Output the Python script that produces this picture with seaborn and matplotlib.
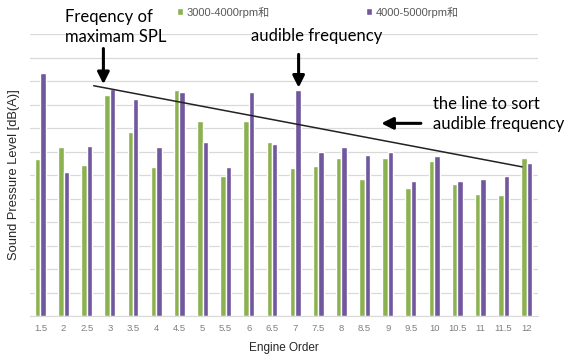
import pandas as pd
import matplotlib.pyplot as plt
import seaborn as sns

orders = ["1.5", "2", "2.5", "3", "3.5", "4", "4.5", "5", "5.5", "6", "6.5",
          "7", "7.5", "8", "8.5", "9", "9.5", "10", "10.5", "11", "11.5", "12"]
spl_3000_4000 = [6.67, 7.19, 6.44, 9.40, 7.83, 6.34, 9.62, 8.28, 5.95, 8.28, 7.42,
                 6.28, 6.38, 6.71, 5.85, 6.71, 5.47, 6.61, 5.63, 5.20, 5.14, 6.71]
spl_4000_5000 = [10.36, 6.12, 7.25, 9.66, 9.24, 7.19, 9.52, 7.41, 6.34, 9.52, 7.31,
                 9.63, 6.98, 7.19, 6.87, 6.98, 5.74, 6.82, 5.74, 5.85, 5.97, 6.50]
series_names = ["3000-4000rpm和", "4000-5000rpm和"]

# sorting line (category index, level)
sort_line_x = [2.3, 20.8]
sort_line_y = [9.8, 6.35]

df = pd.DataFrame({
    "order": orders * 2,
    "spl": spl_3000_4000 + spl_4000_5000,
    "series": [series_names[0]] * len(orders) + [series_names[1]] * len(orders),
})

sns.set_style("white")
plt.rcParams["font.family"] = ["Liberation Sans", "Noto Sans CJK SC", "DejaVu Sans"]

fig = plt.figure(figsize=(5.66, 3.58), dpi=100)
ax = fig.add_axes([0.053, 0.117, 0.898, 0.788])

sns.barplot(data=df, x="order", y="spl", hue="series", order=orders,
            hue_order=series_names, palette=["#8CB150", "#71579D"],
            width=0.47, gap=0, saturation=1, ax=ax)

ax.set_ylim(0, 12)
ax.set_xlim(-0.45, 21.5)
ax.set_yticks(range(0, 13))
ax.set_yticklabels([])
ax.tick_params(axis="y", length=0)
ax.tick_params(axis="x", length=0, labelsize=6.8, labelcolor="#7f7f7f", pad=6)
ax.yaxis.grid(True, color="#d9d9d9", linewidth=0.9)
ax.set_axisbelow(True)
for s in ["top", "right", "left"]:
    ax.spines[s].set_visible(False)
ax.spines["bottom"].set_color("#d9d9d9")

ax.set_xlabel("Engine Order", fontsize=8.5, labelpad=6)
ax.set_ylabel("Sound Pressure Level [dB(A)]", fontsize=9.3, labelpad=4)

ax.legend(ncol=2, loc="center left", bbox_to_anchor=(0.303, 0.966),
          bbox_transform=fig.transFigure, frameon=False, borderpad=0,
          fontsize=8, labelcolor="#595959", handlelength=0.55, handleheight=0.55,
          handletextpad=0.35, columnspacing=8.6)

# sorting line and annotations
ax.plot(sort_line_x, sort_line_y, color="#222222", linewidth=1.1, clip_on=False)

afont = dict(family=["Lato", "DejaVu Sans"], fontsize=12, color="black")
arrow = dict(arrowstyle="-|>,head_length=0.7,head_width=0.35", color="black", lw=2.2)

ax.annotate("", xy=(2.72, 9.75), xytext=(2.72, 11.5), arrowprops=arrow,
            annotation_clip=False)
ax.text(1.06, 11.55, "Freqency of\nmaximam SPL", ha="left", va="bottom",
        linespacing=1.3, **afont)

ax.annotate("", xy=(11.15, 9.6), xytext=(11.15, 11.25), arrowprops=arrow,
            annotation_clip=False)
ax.text(11.95, 11.9, "audible frequency", ha="center", va="center", **afont)

ax.annotate("", xy=(14.6, 8.2), xytext=(16.55, 8.2), arrowprops=arrow,
            annotation_clip=False)
ax.text(16.95, 7.85, "the line to sort\naudible frequency", ha="left", va="bottom",
        linespacing=1.25, **afont)

fig.savefig("out.png", dpi=100)
